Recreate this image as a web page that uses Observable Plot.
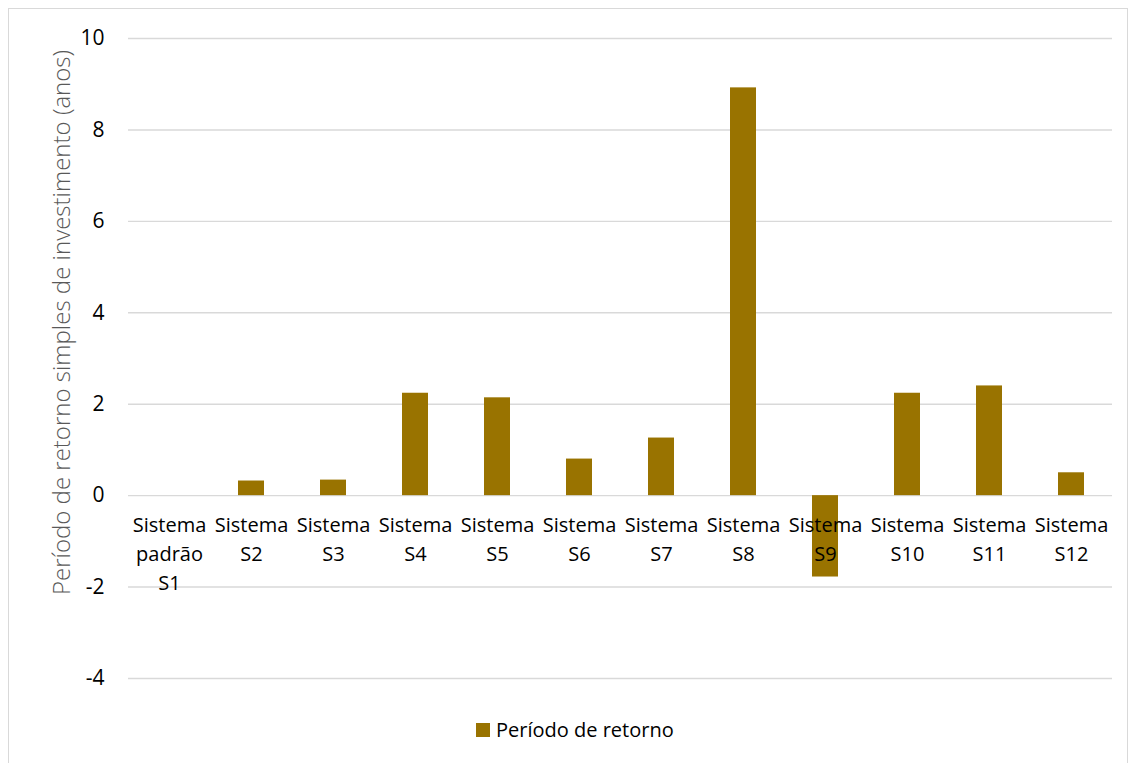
<!DOCTYPE html>
<html>
<head>
<meta charset="utf-8">
<script src="https://cdn.jsdelivr.net/npm/d3@7"></script>
<script src="https://cdn.jsdelivr.net/npm/@observablehq/plot@0.6"></script>
<style>
  body { margin: 0; background: #fff; font-family: "Open Sans", sans-serif; }
  #wrap { position: relative; width: 1137px; height: 763px; overflow: hidden; }
  #frame { position: absolute; left: 8px; top: 8px; width: 1120px; height: 800px; border: 1.5px solid #d9d9d9; box-sizing: border-box; pointer-events: none; }
  #chart { position: absolute; left: 0; top: 0; }
  #legend { position: absolute; left: 476px; top: 716px; display: flex; align-items: center; font-size: 20px; color: #000; }
  #legend .sw { width: 14px; height: 14px; background: #997300; margin-right: 6px; }
</style>
</head>
<body>
<div id="wrap">
  <div id="frame"></div>
  <div id="chart"></div>
  <div id="legend"><span class="sw"></span><span>Período de retorno</span></div>
</div>
<script>
const categories = ["S1", "S2", "S3", "S4", "S5", "S6", "S7", "S8", "S9", "S10", "S11", "S12"];
const categoryLabels = ["Sistema\npadrão\nS1", "Sistema\nS2", "Sistema\nS3", "Sistema\nS4", "Sistema\nS5", "Sistema\nS6", "Sistema\nS7", "Sistema\nS8", "Sistema\nS9", "Sistema\nS10", "Sistema\nS11", "Sistema\nS12"];
const values = [0, 0.32, 0.34, 2.24, 2.14, 0.80, 1.26, 8.92, -1.78, 2.24, 2.40, 0.50];
const yTicks = [-4, -2, 0, 2, 4, 6, 8, 10];
const yTitle = "Período de retorno simples de investimento (anos)";

const data = categories.map((c, i) => ({cat: c, label: categoryLabels[i], value: values[i]}));

const chart = Plot.plot({
  width: 1137,
  height: 710,
  marginTop: 38,
  marginLeft: 128,
  marginRight: 25,
  marginBottom: 32,
  style: {fontFamily: "Open Sans", fontSize: "20px", color: "#000", background: "transparent"},
  x: {domain: categories, paddingInner: 0.68, paddingOuter: 0.34, axis: null},
  y: {domain: [-4, 10], ticks: yTicks},
  marks: [
    Plot.ruleY(yTicks, {stroke: "#d9d9d9", strokeWidth: 1.4}),
    Plot.barY(data, {x: "cat", y: "value", fill: "#997300"}),
    Plot.text(data, {x: "cat", y: () => 0, text: "label", lineAnchor: "top", dy: 16, lineHeight: 1.45, fontSize: 20, fill: "#000"}),
    Plot.axisY({ticks: yTicks, tickSize: 0, tickPadding: 24, fontSize: 21, label: null, fill: "#000", tickFormat: d => String(d)}),
    Plot.text([yTitle], {frameAnchor: "left", textAnchor: "middle", rotate: -90, dx: -66, dy: -36, fontSize: 24, fill: "#595959", fontWeight: 300})
  ]
});
document.getElementById("chart").appendChild(chart);
</script>
</body>
</html>
